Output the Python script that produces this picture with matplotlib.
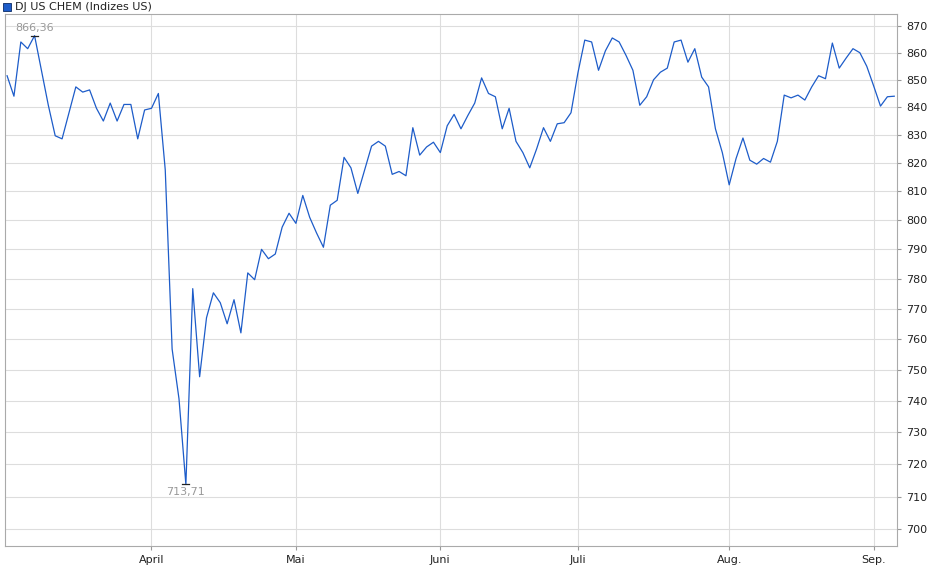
import matplotlib
matplotlib.use("Agg")
import matplotlib.pyplot as plt
from matplotlib.ticker import FixedLocator, NullLocator
import numpy as np

# daily closes
values = [851.5, 844, 864, 861.5, 866.36, 853.5, 840.7, 829.7, 828.6, 838,
          847.4, 845.5, 846.3, 839.6, 835, 841.5, 835, 841, 841, 828.6,
          839, 839.6, 845, 817.6, 756.7, 740.6, 713.71, 776.7, 747.7, 767,
          775.3, 772, 765, 773, 762, 782, 779.7, 790, 786.8, 788.4,
          797.6, 802.4, 798.9, 808.6, 801, 795.6, 790.7, 805.2, 806.9, 822,
          818.3, 809.3, 817.6, 826, 827.7, 826, 816, 817, 815.5, 832.6,
          822.8, 825.7, 827.4, 823.7, 833.3, 837.4, 832.2, 837, 841.5, 850.7,
          845, 843.8, 832.2, 839.6, 827.7, 823.7, 818.3, 825, 832.6, 827.7,
          834, 834.4, 838, 852.5, 864.7, 864, 853.5, 860.7, 865.5, 864,
          859, 853.5, 840.7, 843.8, 850, 852.8, 854.3, 864, 864.7, 856.5,
          861.5, 851, 847.4, 832.2, 823.7, 812.3, 821.6, 828.9, 821, 819.6,
          821.6, 820.3, 827.7, 844.4, 843.4, 844.4, 842.6, 847.4, 851.5, 850.4,
          863.6, 854.3, 858, 861.5, 860, 855, 847.8, 840.4, 843.8, 844]
month_labels = ["April", "Mai", "Juni", "Juli", "Aug.", "Sep."]
month_idx = [21, 42, 63, 83, 105, 126]
y_ticks = list(range(700, 871, 10))
series_name = "DJ US CHEM (Indizes US)"

x = np.arange(len(values))
fig = plt.figure(figsize=(9.4, 5.79), dpi=100)
ax = fig.add_axes([5 / 940, 1 - 546 / 579, 892 / 940, 532 / 579])
ax.plot(x, values, color="#1d5cc9", lw=0.9)
ax.set_yscale("log")
ax.set_ylim(695, 874.5)
ax.set_xlim(-0.3, len(values) - 0.6)
ax.yaxis.set_major_locator(FixedLocator(y_ticks))
ax.yaxis.set_minor_locator(NullLocator())
ax.set_yticklabels([str(v) for v in y_ticks])
ax.yaxis.tick_right()
ax.set_xticks(month_idx)
ax.set_xticklabels(month_labels)
ax.tick_params(labelsize=8, colors="#222222", length=3)
ax.tick_params(axis="both", color="#999999")
ax.grid(True, color="#dddddd", lw=0.8)
ax.set_axisbelow(True)
for s in ax.spines.values():
    s.set_color("#aaaaaa")

imax, imin = int(np.argmax(values)), int(np.argmin(values))
ax.plot([imax - 0.5, imax + 0.5], [values[imax]] * 2, color="#222222", lw=0.9)
ax.plot([imin - 0.5, imin + 0.5], [values[imin]] * 2, color="#222222", lw=0.9)
ax.annotate(f"{values[imax]:.2f}".replace(".", ","), (imax, values[imax]), xytext=(0, 2),
            textcoords="offset points", ha="center", va="bottom", fontsize=8, color="#999999")
ax.annotate(f"{values[imin]:.2f}".replace(".", ","), (imin, values[imin]), xytext=(0, -2),
            textcoords="offset points", ha="center", va="top", fontsize=8, color="#999999")

fig.patches.append(plt.Rectangle((3 / 940, 1 - 11 / 579), 8 / 940, 8 / 579,
                                 transform=fig.transFigure, facecolor="#1d5cc9",
                                 edgecolor="#0a2a66", lw=0.6))
fig.text(15 / 940, 1 - 7 / 579, series_name, fontsize=8, va="center", color="#222222")
fig.savefig("out.png", dpi=100)
